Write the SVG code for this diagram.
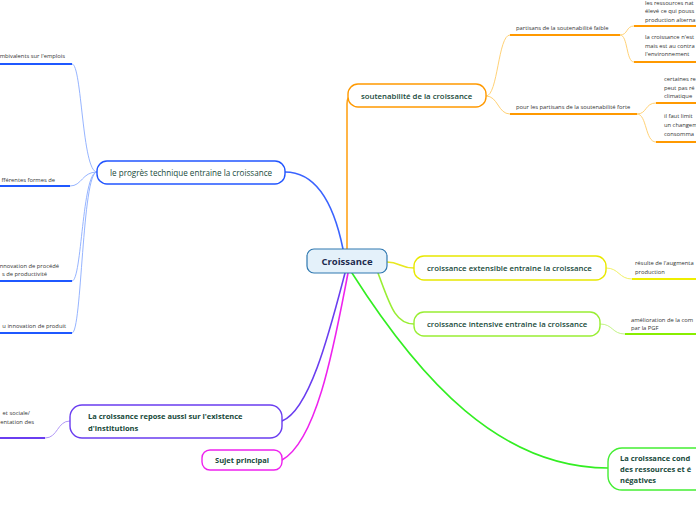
<svg xmlns="http://www.w3.org/2000/svg" width="696" height="520" viewBox="0 0 696 520">
<style>
.node{fill:#ffffff;stroke-width:1.4}
.t1{font-family:"Open Sans","Noto Sans",sans-serif;font-size:8.1px;fill:#17493a}
.tb{font-family:"Open Sans","Noto Sans",sans-serif;font-size:7.5px;font-weight:700;fill:#17493a}
.tm{font-family:"Open Sans","Noto Sans",sans-serif;font-size:7.8px;font-weight:600;fill:#17493a}
.t2{font-family:"Open Sans","Noto Sans",sans-serif;font-size:5.8px;fill:#333333}
.c{fill:none;stroke-width:1.6;stroke-linecap:round}
.s{fill:none;stroke-width:0.9}
.u{fill:none;stroke-width:1.8}
</style>
<rect width="696" height="520" fill="#ffffff"/>
<g id="connectors">
  <path class="c" stroke="#3a63ff" d="M343 249 C333 200,315 172,285 172"/>
  <path class="c" stroke="#ffa31a" d="M347 249 L347 104 Q347 96 352 96"/>
  <path class="c" stroke="#e8e820" d="M387 262 C400 262,400 268,414 268"/>
  <path class="c" stroke="#99ee33" d="M378 273 C390 305,395 324,414 324"/>
  <path class="c" stroke="#33ee22" d="M352 273 C420 380,500 468,608 468"/>
  <path class="c" stroke="#6a3df0" d="M345 273 C330 330,310 410,282 421"/>
  <path class="c" stroke="#ee22ee" d="M348 273 C335 340,318 440,282 460"/>
  <g stroke="#8aabff">
    <path class="s" d="M97 172 C82 172,82 64,72 64"/>
    <path class="s" d="M97 172 C82 172,82 186,70 186"/>
    <path class="s" d="M97 172 C82 172,82 281,72 281"/>
    <path class="s" d="M97 172 C82 172,82 333,72 333"/>
  </g>
  <g stroke="#1f58ff">
    <path class="u" d="M-2 64 H72"/>
    <path class="u" d="M-2 186 H70"/>
    <path class="u" d="M-2 281 H72"/>
    <path class="u" d="M-2 333 H72"/>
  </g>
  <g stroke="#ffcc66">
    <path class="s" d="M486 96 C498 96,498 35,510 35"/>
    <path class="s" d="M486 96 C498 96,498 114,510 114"/>
    <path class="s" d="M620 35 C628 35,626 26,634 26"/>
    <path class="s" d="M620 35 C628 35,626 62,634 62"/>
    <path class="s" d="M637 114 C647 114,645 103,656 103"/>
    <path class="s" d="M637 114 C647 114,645 142,656 142"/>
  </g>
  <g stroke="#ff9900">
    <path class="u" d="M510 35 H620"/>
    <path class="u" d="M510 114 H637"/>
    <path class="u" d="M634 26 H698"/>
    <path class="u" d="M634 62 H698"/>
    <path class="u" d="M656 103 H698"/>
    <path class="u" d="M656 142 H698"/>
  </g>
  <path class="s" stroke="#eeee55" d="M606 268 C619 268,619 279,632 279"/>
  <path class="u" stroke="#eeee00" d="M632 279 H698"/>
  <path class="s" stroke="#bbf077" d="M600 324 C613 324,612 334,625 334"/>
  <path class="u" stroke="#88ee00" d="M625 334 H698"/>
  <path class="s" stroke="#a88cf5" d="M70 421 C57 421,58 438,45 438"/>
  <path class="u" stroke="#6a3df0" d="M-2 438 H45"/>
</g>
<g id="n-center">
  <rect x="307" y="249" width="80" height="24" rx="7" fill="#e4f1fa" stroke="#2f78b0" stroke-width="1.2"/>
  <text x="347" y="265" text-anchor="middle" font-family="Open Sans, Noto Sans, sans-serif" font-size="9.5" font-weight="700" fill="#1d2b4f">Croissance</text>
</g>
<g id="n-progres">
  <rect class="node" x="97" y="161" width="188" height="23" rx="10" stroke="#2255ff"/>
  <text class="t1" x="110" y="175.5">le progrès technique entraine la croissance</text>
</g>
<g id="n-progres-1"><text class="t2" x="65" y="58" text-anchor="end">mbivalents sur l'emplois</text></g>
<g id="n-progres-2"><text class="t2" x="55" y="182" text-anchor="end">fférentes formes de</text></g>
<g id="n-progres-3"><text class="t2" x="59" y="268" text-anchor="end">nnovation de procédé</text><text class="t2" x="47" y="276" text-anchor="end">s de productivité</text></g>
<g id="n-progres-4"><text class="t2" x="66" y="328" text-anchor="end">u innovation de produit</text></g>
<g id="n-soutenabilite">
  <rect class="node" x="348" y="84" width="138" height="23" rx="10" stroke="#ff9900"/>
  <text class="tm" x="361" y="98.5">soutenabilité de la croissance</text>
</g>
<g id="n-faible"><text class="t2" x="516" y="30">partisans de la soutenabilité faible</text></g>
<g id="n-forte"><text class="t2" x="516" y="109">pour les partisans de la soutenabilité forte</text></g>
<g id="n-faible-1"><text class="t2" x="645" y="4.5">les ressources nat</text><text class="t2" x="645" y="13">élevé ce qui pouss</text><text class="t2" x="645" y="21.5">production alterna</text></g>
<g id="n-faible-2"><text class="t2" x="645" y="39">la croissance n'est</text><text class="t2" x="645" y="47.5">mais est au contra</text><text class="t2" x="645" y="56">l'environnement</text></g>
<g id="n-forte-1"><text class="t2" x="664" y="81">certaines re</text><text class="t2" x="664" y="89.5">peut pas ré</text><text class="t2" x="664" y="98">climatique</text></g>
<g id="n-forte-2"><text class="t2" x="664" y="118">il faut limit</text><text class="t2" x="664" y="127">un changem</text><text class="t2" x="664" y="135.5">consomma</text></g>
<g id="n-extensible">
  <rect class="node" x="414" y="256" width="192" height="24" rx="10" stroke="#e8e800"/>
  <text class="tm" x="427" y="271">croissance extensible entraine la croissance</text>
</g>
<g id="n-extensible-1"><text class="t2" x="635" y="265">résulte de l'augmenta</text><text class="t2" x="635" y="274">production</text></g>
<g id="n-intensive">
  <rect class="node" x="414" y="312" width="186" height="24" rx="10" stroke="#99ee33"/>
  <text class="tm" x="427" y="327">croissance intensive entraine la croissance</text>
</g>
<g id="n-intensive-1"><text class="t2" x="631" y="322">amélioration de la com</text><text class="t2" x="631" y="330">par la PGF</text></g>
<g id="n-institutions">
  <rect class="node" x="70" y="405" width="212" height="33" rx="12" stroke="#6a3df0"/>
  <text class="tb" x="88" y="419">La croissance repose aussi sur l'existence</text>
  <text class="tb" x="88" y="431">d'institutions</text>
</g>
<g id="n-institutions-1"><text class="t2" x="30" y="415" text-anchor="end">et sociale/</text><text class="t2" x="34" y="424" text-anchor="end">entation des</text></g>
<g id="n-sujet">
  <rect class="node" x="202" y="450" width="80" height="20" rx="8" stroke="#ee22ee"/>
  <text class="tb" x="215" y="463">Sujet principal</text>
</g>
<g id="n-conditions">
  <rect class="node" x="608" y="448" width="120" height="42" rx="14" stroke="#44ee33"/>
  <text class="tb" x="620" y="461">La croissance cond</text>
  <text class="tb" x="620" y="472">des ressources et é</text>
  <text class="tb" x="620" y="483">négatives</text>
</g>
</svg>
